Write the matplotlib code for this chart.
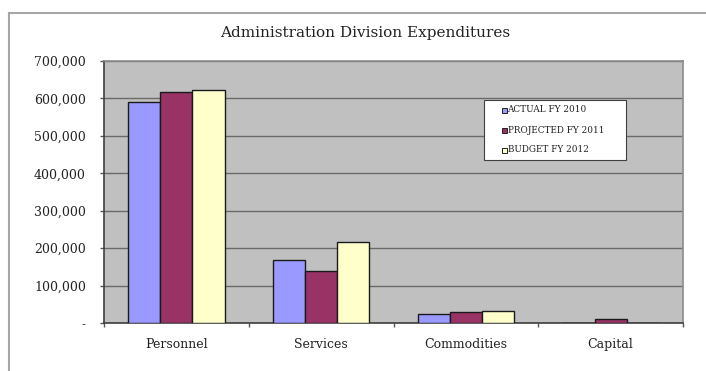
import matplotlib
matplotlib.use("Agg")
import matplotlib.pyplot as plt
from matplotlib.lines import Line2D
from matplotlib.patches import Rectangle
from matplotlib.ticker import FuncFormatter, FixedLocator
import numpy as np

categories = ["Personnel", "Services", "Commodities", "Capital"]
series_names = ["ACTUAL FY 2010", "PROJECTED FY 2011", "BUDGET FY 2012"]
actual_2010 = [590000, 167000, 24000, 0]
projected_2011 = [618000, 138000, 29000, 11000]
budget_2012 = [623000, 217000, 33000, 0]
colors = ["#9999FF", "#993366", "#FFFFCC"]
y_ticks = [0, 100000, 200000, 300000, 400000, 500000, 600000, 700000]

plt.rcParams["font.family"] = ["DejaVu Serif"]

W, H = 706, 371
fig = plt.figure(figsize=(W / 100, H / 100), dpi=100)
fig.patch.set_facecolor("white")


def fx(px):
    return px / W


def fy(py):
    return 1 - py / H


# outer chart frame (top and left edges)
fig.add_artist(Line2D([fx(9), fx(705)], [fy(13), fy(13)], color="#A6A6A6", lw=1.5))
fig.add_artist(Line2D([fx(9), fx(9)], [0, fy(13)], color="#A6A6A6", lw=1.5))

left, right, top, bottom = 104, 683, 61, 323
ax = fig.add_axes([fx(left), fy(bottom), (right - left) / W, (bottom - top) / H])
ax.set_facecolor("#C0C0C0")

x = np.arange(len(categories))
bw = 0.222
for i, (vals, c) in enumerate(zip([actual_2010, projected_2011, budget_2012], colors)):
    ax.bar(x + (i - 1) * bw, vals, bw, color=c, edgecolor="#1a1a1a", linewidth=1.0, zorder=3)

ax.set_xlim(-0.5, len(categories) - 0.5)
ax.set_ylim(0, 700000)
ax.yaxis.set_major_locator(FixedLocator(y_ticks))
ax.yaxis.set_major_formatter(FuncFormatter(lambda v, p: "-" if v == 0 else f"{int(v):,}"))
ax.grid(axis="y", color="#6A6A6A", linewidth=1.0, zorder=1)
ax.set_axisbelow(True)

# category labels centered, ticks at category boundaries
ax.set_xticks(np.arange(len(categories) + 1) - 0.5)
ax.set_xticklabels([])
ax.set_xticks(x, minor=True)
ax.set_xticklabels(categories, minor=True, fontsize=9, color="#222222")
ax.tick_params(axis="x", which="minor", length=0, pad=10.5)
ax.tick_params(axis="x", which="major", length=3, color="#555555", width=1)
ax.tick_params(axis="y", length=3, color="#555555", width=1, labelsize=9,
               pad=10, labelcolor="#222222")

for s in ["top", "right"]:
    ax.spines[s].set_color("#8C8C8C")
    ax.spines[s].set_linewidth(1.2)
for s in ["left", "bottom"]:
    ax.spines[s].set_color("#404040")
    ax.spines[s].set_linewidth(1.2)

fig.text(fx(365), fy(33), "Administration Division Expenditures",
         ha="center", va="center", fontsize=11, color="#222222")

# legend box
fig.add_artist(Rectangle((fx(484), fy(160)), fx(626) - fx(484), fy(100) - fy(160),
                         facecolor="white", edgecolor="#404040", lw=0.8, zorder=5))
row_y = [110, 130.5, 150]
for name, c, ry in zip(series_names, colors, row_y):
    fig.add_artist(Rectangle((fx(502), fy(ry + 2.5)), fx(5), 5 / H,
                             facecolor=c, edgecolor="#222222", lw=0.7, zorder=6))
    fig.text(fx(507.5), fy(ry), name, ha="left", va="center", fontsize=6.4,
             color="#222222", zorder=6)

fig.savefig("out.png", dpi=100)
